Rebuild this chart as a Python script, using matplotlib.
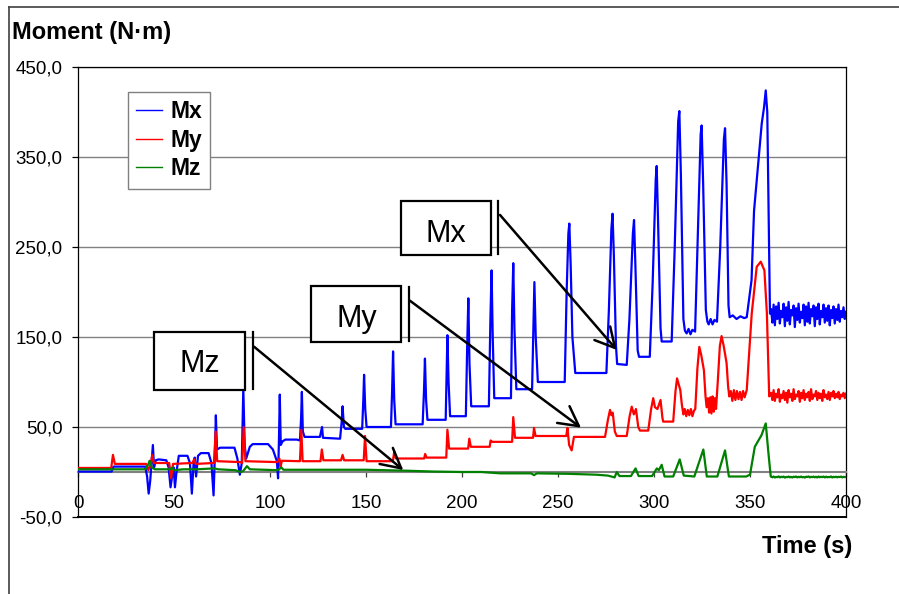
import matplotlib
matplotlib.use("Agg")
import matplotlib.pyplot as plt
from matplotlib.lines import Line2D
from matplotlib.patches import Rectangle
import numpy as np

plt.rcParams['font.family'] = ['Liberation Sans', 'DejaVu Sans']

# readings: (time s, moment N·m)
mx_points = [
    (0, 0.5), (17.5, 0.5), (18.5, 6), (35, 6), (36, -5), (36.8, -24), (37.6, -10),
    (38.3, 10), (39, 30), (39.6, 5), (40.5, 13), (42, 14), (46, 13), (47.2, 5),
    (48.2, -17), (49, -5), (49.8, 5), (50.5, -17), (51.3, 0), (52.5, 18), (57, 18),
    (58.3, 10), (59.3, -24), (60.2, 10), (60.8, 16), (61.5, -5), (62.5, 18), (64, 21),
    (68, 21), (69.5, 10), (70.6, -26), (71.3, 20), (71.8, 63), (72.4, 25), (74, 27),
    (81.5, 27), (83, 15), (84.3, -3), (85.3, 10), (86.1, 93), (86.8, 30), (87.6, 15),
    (89.5, 28), (91, 31), (99, 31), (101.5, 25), (103.6, 12), (104.2, -7), (104.7, 40),
    (105.1, 86), (105.6, 30), (106.5, 34), (108, 36), (114, 36), (115.6, 35),
    (116.2, 60), (116.6, 89), (117.1, 45), (118, 39), (126, 39), (126.6, 45),
    (127.1, 50), (127.6, 38), (136.5, 37), (137.3, 55), (137.8, 73), (138.5, 50),
    (139.2, 48), (148, 48), (148.6, 80), (149, 108), (149.6, 70), (150.3, 50),
    (163, 50), (163.6, 90), (164.1, 134), (164.7, 80), (165.4, 53), (179.5, 53),
    (180.2, 90), (180.7, 126), (181.3, 80), (182, 58), (191.5, 58), (192, 110),
    (192.4, 152), (193, 100), (193.8, 62), (202, 62), (202.7, 140), (203.3, 193),
    (203.9, 120), (204.8, 73), (214, 73), (214.8, 170), (215.4, 224), (216, 150),
    (216.8, 82), (225.5, 82), (226.1, 180), (226.7, 232), (227.3, 160), (228.3, 92),
    (236.5, 92), (237.2, 160), (237.7, 211), (238.4, 150), (239.5, 100), (253.5, 100),
    (254.5, 200), (255.4, 265), (255.9, 276), (256.6, 230), (257.5, 150), (259, 110),
    (275.2, 110), (276.5, 180), (277.8, 270), (278.4, 287), (279.1, 240), (280.2, 140),
    (280.8, 120), (285.8, 119), (287.2, 170), (289, 265), (289.6, 280), (290.3, 230),
    (291.5, 135), (292.2, 128), (297.8, 128), (299.3, 210), (300.9, 325), (301.4, 340),
    (302.1, 280), (303.4, 160), (304, 145), (309.2, 145), (310.8, 250), (312.6, 390),
    (313.2, 401), (314, 330), (315.3, 170), (316.1, 157), (317, 154), (318, 159),
    (319, 153), (320, 158), (321.4, 156), (322.8, 260), (324.3, 375), (324.8, 385),
    (325.6, 320), (327, 180), (327.8, 167), (328.5, 164), (329.5, 170), (330.5, 164),
    (331.5, 169), (332.8, 167), (334.5, 250), (336.4, 370), (337, 382), (337.8, 320),
    (338.8, 185), (339.4, 172), (341, 174), (343, 170), (345, 173), (347, 171),
    (348.3, 172), (350.8, 213), (352.1, 290), (353.5, 324), (356.1, 387), (357.3, 405),
    (358.2, 424), (359.0, 400), (359.9, 250), (360.4, 176),
]

my_points = [
    (0, 4.5), (17.3, 4.5), (18.2, 19), (19.2, 9), (35.5, 9), (36.6, 2), (37.8, 8),
    (38.7, 19), (39.5, 10), (47.5, 10), (48.5, -7), (49.5, 9), (59.5, 10), (60.5, 14),
    (61.3, 9), (70.8, 10), (71.7, 45), (72.5, 12), (84.5, 11), (85.5, 10), (86.3, 50),
    (87.2, 12), (103.8, 11), (104.9, 15), (105.5, 6), (106.2, 12.5), (115.6, 12),
    (116.3, 47), (117, 12), (126.3, 12), (127, 25), (127.8, 13), (137, 13),
    (137.8, 19), (138.6, 13), (148.8, 13), (149.5, 40), (150.3, 12), (164, 12),
    (164.7, 22.6), (165.6, 15), (180.3, 15), (180.8, 20), (181.5, 16), (191.8, 16),
    (192.4, 47), (193.3, 26), (203.2, 26), (203.8, 37), (204.6, 28), (214.4, 28),
    (214.9, 35), (215.8, 33.5), (226.1, 33.5), (226.7, 61), (227.6, 38), (237, 38),
    (237.5, 49), (238.3, 40), (254.3, 40), (254.9, 49), (255.8, 30), (257.1, 24),
    (258.3, 39), (274.5, 39), (276, 58), (277.1, 69), (277.8, 63), (278.5, 66),
    (279.6, 45), (280.6, 40), (285.8, 40), (287.3, 62), (288.4, 72.6), (289.5, 64),
    (290.6, 70), (291.8, 50), (292.7, 46), (297, 46), (298.5, 70), (299.6, 82),
    (300.5, 72), (301.8, 70), (303.4, 80), (304.4, 60), (304.8, 56), (310, 56),
    (311.2, 90), (312, 104), (312.8, 98), (313.7, 91), (314.5, 75), (315.3, 64),
    (316, 70), (316.8, 62), (317.6, 69), (318.4, 63), (319.2, 70), (320, 62),
    (320.8, 68), (321.5, 70), (322.6, 115), (323.6, 139), (324.6, 130), (326, 113),
    (326.8, 85), (327.4, 72), (328.1, 82), (328.7, 66), (329.3, 83), (329.9, 65),
    (330.5, 84), (331.1, 67), (331.7, 82), (332.3, 70), (333.2, 100), (334.3, 140),
    (335.2, 151), (336.3, 140), (337.8, 121), (338.6, 95), (339.2, 84), (340, 90),
    (340.8, 79), (341.6, 91), (342.4, 80), (343.2, 90), (344, 81), (344.8, 89),
    (345.6, 80), (346.4, 90), (347.2, 83), (348.3, 91), (350.9, 176), (353.5, 228),
    (355.6, 233.7), (357.5, 224), (358.8, 176), (360, 84),
]

mz_points = [
    (0, 3), (35, 3), (36.5, 8), (37.3, 12.5), (38.5, 5), (40, 3), (48, 3), (49, 5),
    (50, 2), (55, 3), (62, 3), (71, 4), (73, 3), (82, 2), (84.5, 0), (86, 1),
    (88, 6.5), (89.5, 3), (104, 2), (106, 5), (107, 2.5), (150, 2.5), (170, 1.5),
    (185, 0.5), (200, 0), (210, 0), (220, -1.5), (236, -1.5), (237.5, -3.5),
    (239, -1.5), (255, -2), (270, -3), (276, -4), (279.5, -6), (280.6, 0),
    (282, -4.5), (288, -4.5), (290.4, 4), (292, -4.5), (299, -4.5), (301.5, 4),
    (302.5, 2), (304, 8), (305.5, -5), (310, -5), (313.4, 14), (315.5, -4),
    (321, -5), (325.7, 25), (327.5, -5), (333, -5), (337, 24), (339, -5), (348, -5),
    (350, -3), (352.5, 28), (356, 41), (358.2, 54), (359.6, 21), (360.8, -5),
]

# vibration tail after the last load step
tail_time = np.linspace(361, 400, 61)
mx_tail = [181, 166, 186, 163, 184, 170, 188, 165, 179, 172,
           187, 162, 183, 168, 189, 164, 180, 174, 185, 161,
           182, 169, 187, 166, 178, 171, 186, 163, 184, 167,
           188, 165, 181, 173, 185, 162, 183, 170, 187, 164,
           179, 172, 186, 166, 182, 168, 185, 163, 180, 171,
           184, 165, 181, 169, 186, 167, 179, 172, 183, 170, 178]
my_tail = [88, 80, 91, 79, 87, 83, 92, 78, 86, 82,
           90, 80, 88, 77, 91, 83, 87, 79, 92, 81,
           86, 84, 90, 78, 88, 82, 91, 80, 87, 83,
           89, 79, 92, 81, 86, 84, 90, 80, 88, 82,
           87, 79, 91, 83, 86, 81, 89, 80, 88, 84,
           90, 82, 87, 83, 89, 81, 86, 84, 88, 82, 87]
mz_tail = [-5.2, -5.9, -5.0, -6.1, -5.4, -5.8, -4.9, -6.0, -5.3, -5.7,
           -5.1, -6.2, -5.5, -5.8, -5.0, -5.9, -5.4, -6.1, -5.2, -5.7,
           -5.0, -6.0, -5.3, -5.8, -5.1, -5.9, -5.5, -6.2, -5.2, -5.6,
           -4.9, -6.0, -5.4, -5.7, -5.1, -5.9, -5.3, -6.1, -5.0, -5.8,
           -5.4, -5.6, -5.1, -6.0, -5.2, -5.9, -5.5, -5.7, -5.0, -6.1,
           -5.3, -5.8, -5.2, -5.9, -5.4, -5.6, -5.1, -6.0, -5.3, -5.7, -5.5]

series_names = ["Mx", "My", "Mz"]
series_colors = ["#0000FF", "#FF0000", "#008000"]

x_ticks = [0, 50, 100, 150, 200, 250, 300, 350, 400]
y_ticks = [-50, 50, 150, 250, 350, 450]
y_tick_labels = ["-50,0", "50,0", "150,0", "250,0", "350,0", "450,0"]

# callout boxes: label, box (t0, t1, v0, v1), text pos, accent bar t, arrow start, arrow end
callouts = [
    ("Mx", (168.1, 214.9, 241.4, 301.4), (191.8, 255.9), 218.9, (219.8, 285.6), (280.6, 135.6)),
    ("My", (121.2, 168.2, 144.8, 206.7), (145.1, 161.5), 172.2, (172.9, 190.3), (262.0, 49.2)),
    ("Mz", (39.7, 87.1, 91.1, 155.9), (63.7, 111.4), 91.0, (91.7, 139.2), (169.4, 2.2)),
]


def full_series(points, tail):
    t = [p[0] for p in points] + list(tail_time)
    v = [p[1] for p in points] + list(tail)
    return t, v


W, H = 899, 594
fig = plt.figure(figsize=(W / 100, H / 100), dpi=100)
ax = fig.add_axes([78 / W, 77 / H, 768 / W, 450 / H])

for pts, tail, name, col in zip([mx_points, my_points, mz_points],
                                [mx_tail, my_tail, mz_tail],
                                series_names, series_colors):
    t, v = full_series(pts, tail)
    ax.plot(t, v, color=col, lw=1.6, label=name, zorder=3)

ax.set_xlim(0, 400)
ax.set_ylim(-50, 450)
ax.set_xticks(x_ticks)
ax.set_yticks(y_ticks)
ax.set_yticklabels(y_tick_labels)
ax.yaxis.grid(True, color="#808080", lw=1.0)
ax.set_axisbelow(True)

ax.spines['bottom'].set_position(('data', 0))
ax.spines['bottom'].set_color("#808080")
ax.spines['bottom'].set_linewidth(1.5)
for s in ['left', 'top', 'right']:
    ax.spines[s].set_color("black")
    ax.spines[s].set_linewidth(0.9)
ax.axhline(-50, color="black", lw=1.4, clip_on=False, zorder=2)

ax.tick_params(axis='y', direction='out', length=4.3, width=0.9, pad=6.8,
               labelsize=13.5, color="black")
ax.tick_params(axis='x', direction='out', length=3.6, width=0.9, pad=13,
               labelsize=13.5, color="#404040")

leg = ax.legend(loc='upper left', bbox_to_anchor=(50 / 768, 425 / 450),
                borderaxespad=0, frameon=True, fancybox=False,
                edgecolor="#808080", facecolor="white", framealpha=1,
                prop={'weight': 'bold', 'size': 16.5}, handlelength=1.15,
                handletextpad=0.35, labelspacing=0.25, borderpad=0.35)
leg.get_frame().set_linewidth(1.0)
for h in leg.get_lines():
    h.set_linewidth(1.0)

for label, (t0, t1, v0, v1), (tx, ty), bar_t, start, end in callouts:
    ax.add_patch(Rectangle((t0, v0), t1 - t0, v1 - v0, facecolor="white",
                           edgecolor="black", lw=1.6, zorder=5))
    ax.text(tx, ty, label, ha='center', va='baseline', fontsize=22, zorder=6)
    ax.plot([bar_t, bar_t], [v0 + 0.8, v1 - 0.8], color="black", lw=1.6, zorder=5)
    ax.annotate("", xy=end, xytext=start,
                arrowprops=dict(arrowstyle="->,head_length=1.4,head_width=0.75",
                                mutation_scale=10, lw=1.8, color="black",
                                shrinkA=0, shrinkB=0), zorder=6)

fig.text(12 / W, 1 - 39.5 / H, "Moment (N·m)", ha='left', va='baseline',
         fontsize=17, fontweight='bold')
fig.text(852 / W, 1 - 552.7 / H, "Time (s)", ha='right', va='baseline',
         fontsize=17, fontweight='bold')

# chart area border
fig.add_artist(Line2D([9 / W, 9 / W], [0, 1 - 7 / H], transform=fig.transFigure,
                      color="#404040", lw=1.2))
fig.add_artist(Line2D([9 / W, 1], [1 - 7 / H, 1 - 7 / H], transform=fig.transFigure,
                      color="#404040", lw=1.2))

fig.savefig("out.png", dpi=100)
